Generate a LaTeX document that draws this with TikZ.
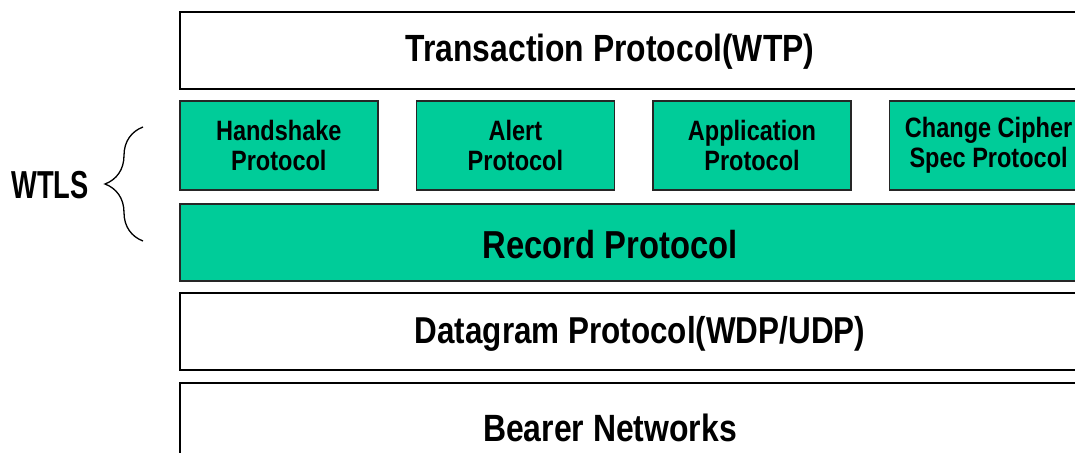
\documentclass[tikz,border=0pt]{standalone}
\usepackage{fontspec}
\setmainfont{Liberation Sans}
\newfontfamily\condfont{Liberation Sans}[FakeStretch=0.84]
\newfontfamily\narrowfont{Liberation Sans}[FakeStretch=0.7]
\usetikzlibrary{positioning,decorations.pathreplacing}
\definecolor{wtlsgreen}{RGB}{0,204,153}

\begin{document}
\begin{tikzpicture}[x=1pt,y=-1pt,
	layer/.style={draw=black,line width=1.6pt,fill=white,minimum width=920pt,minimum height=77pt,inner sep=0pt,anchor=north west},
	sublayer/.style={draw=black!85,line width=1.6pt,fill=wtlsgreen,minimum width=198pt,minimum height=89pt,inner sep=0pt,anchor=north west,align=center,font=\condfont\bfseries\fontsize{28}{30}\selectfont},
	layertext/.style={inner sep=0pt,font=\condfont\bfseries\fontsize{#1}{42}\selectfont}]
		\useasboundingbox (0,0) rectangle (1075,452);
		\clip (0,0) rectangle (1075,452);
		
		% WTP
		\node[layer] (wtp) at (179,11) {};
		\node[layertext=37.9] (wtptext) at (610,52) {Transaction Protocol(WTP)};
		
		% WTLS upper layer
		\node[sublayer] (hs) at (179,100) {Handshake\\Protocol};
		\node[sublayer,right=37pt of hs] (alert) {Alert\\Protocol};
		\node[sublayer,right=37pt of alert] (app) {Application\\Protocol};
		\node[sublayer,right=37pt of app] (ccs) {Change Cipher\\Spec Protocol};
		
		% record layer
		\node[layer,fill=wtlsgreen,draw=black!85] (rec) at (179,203) {};
		\node[layertext=39] (rectext) at (610,245) {Record Protocol};
		
		% WDP / UDP
		\node[layer] (wdp) at (179,292) {};
		\node[layertext=37.4] (wdptext) at (640,334) {Datagram Protocol(WDP/UDP)};
		
		% bearer
		\node[layer,minimum height=90pt] (bearer) at (179,382) {};
		\node[layertext=38] (bearertext) at (610,428) {Bearer Networks};
		
		% WTLS brace
		\coordinate (bracetop) at (143,127);
		\coordinate (bracebot) at (143,241);
		\draw[line width=1.3pt,decorate,decoration={brace,amplitude=38pt,aspect=0.5}] (bracebot) -- (bracetop);
		\node[inner sep=0pt,font=\narrowfont\bfseries\fontsize{39}{42}\selectfont] (wtls) at (50,185) {WTLS};
	\end{tikzpicture}
\end{document}
